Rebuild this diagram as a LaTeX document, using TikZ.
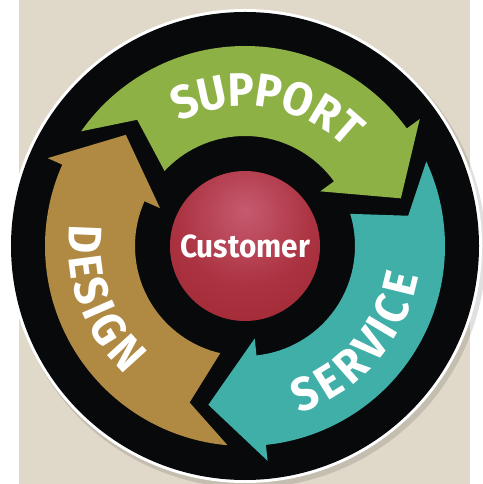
\documentclass[tikz,border=0pt]{standalone}
\usepackage{fontspec}
\usetikzlibrary{decorations.text}
\newfontfamily\labelfont{Fira Sans}[FakeStretch=0.93]
\newcommand\bandfont{\labelfont\bfseries\fontsize{47}{47}\selectfont}
\definecolor{bgbeige}{HTML}{E0D9CA}
\definecolor{ringblack}{HTML}{07090B}
\definecolor{supportgreen}{HTML}{8DB145}
\definecolor{serviceteal}{HTML}{40AFA8}
\definecolor{designbrown}{HTML}{B08A42}
\definecolor{hubhigh}{RGB}{198,90,112}
\definecolor{hubmid}{RGB}{172,52,66}
\definecolor{hublow}{RGB}{150,30,40}
\pgfdeclareradialshading{hubball}{\pgfpoint{0bp}{12bp}}{color(0bp)=(hubhigh); color(22bp)=(hubmid); color(55bp)=(hublow); color(100bp)=(hublow)}

\begin{document}
\begin{tikzpicture}[x=1pt,y=1pt,
    bandtext/.style={decorate, decoration={text effects along path, text={#1},
      text effects/.cd, text along path, fit text to path,
      characters={text=white, font=\bandfont}}},
    hub/.style={circle, minimum size=150pt, inner sep=0pt, shading=hubball,
      text=white, font=\labelfont\bfseries\fontsize{32}{32}\selectfont}]
  \useasboundingbox (-245,-238) rectangle (237,246);
  \fill[white] (-245,-238) rectangle (237,246);
  \fill[bgbeige] (-226,-238) rectangle (225,246);
  % ring
  \fill[black, opacity=0.12] (3,-4) circle[radius=238];
  \fill[white] (0,0) circle[radius=237];
  \fill[ringblack] (0,0) circle[radius=234];
  % the three arrows, clockwise
  \foreach \rot/\col in {0/supportgreen, -120/serviceteal, 120/designbrown}
    \fill[\col, rotate=\rot] (145:200) arc[start angle=145, end angle=36, radius=200]
      -- (36:216) -- (17:163) -- (36:93) -- (36:110)
      arc[start angle=36, end angle=137, radius=110] -- (130.5:166) -- cycle;
  \path[bandtext=SUPPORT] (118:140) arc[start angle=118, end angle=44, radius=140];
  \path[bandtext=SERVICE] (-72:176) arc[start angle=-72, end angle=-10, radius=176];
  \path[bandtext=DESIGN] (173:176) arc[start angle=173, end angle=227, radius=176];
  \node[hub] (customer) at (0,0) {Customer};
\end{tikzpicture}
\end{document}
